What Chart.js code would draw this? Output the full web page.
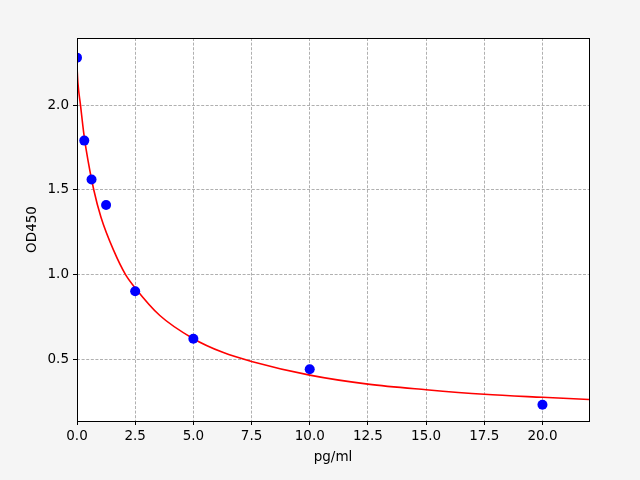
<!DOCTYPE html>
<html>
<head>
<meta charset="utf-8">
<script src="https://cdn.jsdelivr.net/npm/chart.js@4"></script>
<style>
  html, body { margin: 0; padding: 0; background: #f5f5f5; }
  #wrap { width: 640px; height: 480px; }
</style>
</head>
<body>
<div id="wrap"><canvas id="myChart" width="640" height="480"></canvas></div>
<script>
// standards measured
const concX = [0, 0.3125, 0.625, 1.25, 2.5, 5, 10, 20];
const odY = [2.28, 1.79, 1.56, 1.41, 0.90, 0.62, 0.44, 0.23];

// fitted curve
const fitX = [0, 0.04, 0.15, 0.29, 0.39, 0.72, 1.03, 1.58, 2.08, 2.5, 3.56, 5, 6.29, 7.5, 10, 12.5, 15, 17.5, 20, 22];
const fitY = [2.225, 2.13, 2.0, 1.834, 1.74, 1.5, 1.338, 1.14, 1.0, 0.92, 0.757, 0.62, 0.538, 0.486, 0.405, 0.352, 0.319, 0.292, 0.274, 0.261];

const xTicks = [0, 2.5, 5, 7.5, 10, 12.5, 15, 17.5, 20];
const yTicks = [0.5, 1.0, 1.5, 2.0];

(()=>{
    const ctx = document.getElementById('myChart');
    Chart.defaults.font.family = 'DejaVu Sans';
    Chart.defaults.font.size = 13.5;
    Chart.defaults.color = '#000';

    const frame = {
        id: 'frame',
        beforeDraw(chart) {
            const a = chart.chartArea, c = chart.ctx;
            c.save();
            c.fillStyle = '#f5f5f5';
            c.fillRect(0, 0, chart.width, chart.height);
            c.fillStyle = '#fff';
            c.fillRect(a.left, a.top, a.right - a.left, a.bottom - a.top);
            c.restore();
        },
        afterDraw(chart) {
            const a = chart.chartArea, c = chart.ctx;
            c.save();
            c.strokeStyle = '#000';
            c.lineWidth = 1;
            c.strokeRect(Math.round(a.left) + 0.5, Math.round(a.top) + 0.5,
                Math.round(a.right - a.left), Math.round(a.bottom - a.top));
            c.restore();
        }
    };

    const gridOpts = {
        color: '#b0b0b0',
        lineWidth: 1,
        tickColor: '#000',
        tickLength: 4,
        tickBorderDash: []
    };
    const borderOpts = { display: false, dash: [3, 1.6] };

    new Chart(ctx, {
        type: 'scatter',
        data: {
            datasets: [
                {
                    label: 'standards',
                    data: concX.map((x, i) => ({x: x, y: odY[i]})),
                    backgroundColor: '#0000ff',
                    borderWidth: 0,
                    pointRadius: 5,
                    order: 0
                },
                {
                    label: 'fit',
                    type: 'line',
                    data: fitX.map((x, i) => ({x: x, y: fitY[i]})),
                    borderColor: '#ff0000',
                    borderWidth: 1.6,
                    pointRadius: 0,
                    cubicInterpolationMode: 'monotone',
                    fill: false,
                    order: 1
                }
            ]
        },
        options: {
            responsive: false,
            animation: false,
            layout: { padding: { left: 20, right: 51, top: 38, bottom: 10 } },
            plugins: {
                legend: { display: false },
                tooltip: { enabled: false }
            },
            scales: {
                x: {
                    type: 'linear',
                    min: 0,
                    max: 22,
                    grid: gridOpts,
                    border: borderOpts,
                    afterBuildTicks: (axis) => { axis.ticks = xTicks.map(v => ({value: v})); },
                    afterFit: (axis) => { axis.height = 49; },
                    ticks: {
                        maxRotation: 0,
                        padding: 3,
                        callback: (v) => Number(v).toFixed(1)
                    },
                    title: { display: true, text: 'pg/ml', padding: { top: 2, bottom: 4 } }
                },
                y: {
                    type: 'linear',
                    min: 0.134,
                    max: 2.396,
                    grid: gridOpts,
                    border: borderOpts,
                    afterBuildTicks: (axis) => { axis.ticks = yTicks.map(v => ({value: v})); },
                    afterFit: (axis) => { axis.width = 57; },
                    ticks: {
                        padding: 4,
                        callback: (v) => Number(v).toFixed(1)
                    },
                    title: { display: true, text: 'OD450', padding: { top: 4, bottom: 4 } }
                }
            }
        },
        plugins: [frame]
    });
})()
</script>
</body>
</html>
